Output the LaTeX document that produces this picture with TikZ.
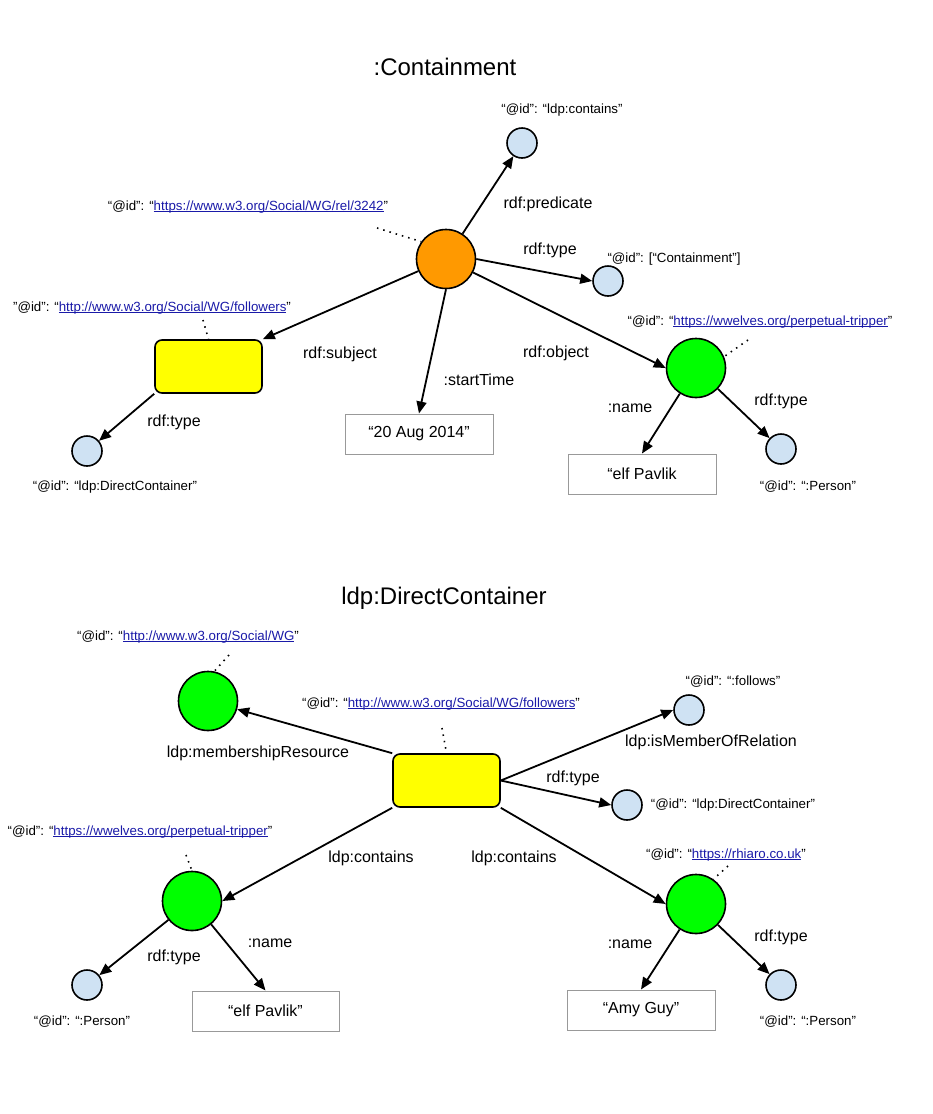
\documentclass[tikz,border=0pt]{standalone}
\usepackage{fontspec}
\setmainfont{Liberation Sans}
\usetikzlibrary{arrows.meta}
\definecolor{cOrange}{HTML}{FF9900}
\definecolor{cYellow}{HTML}{FFFF00}
\definecolor{cGreen}{HTML}{00FF00}
\definecolor{cBlue}{HTML}{CFE2F3}
\definecolor{cLink}{HTML}{1A1AA8}
\definecolor{cGray}{HTML}{999999}
\newcommand{\lnk}[1]{\textcolor{cLink}{\setbox0\hbox{#1}\rlap{\rule[-1.8pt]{\wd0}{0.8pt}}\box0}}
\tikzset{
  big/.style={circle, draw=black, line width=1.6pt, minimum size=59pt, inner sep=0pt},
  small/.style={circle, draw=black, fill=cBlue, line width=1.6pt, minimum size=30pt, inner sep=0pt},
  ybox/.style={draw=black, fill=cYellow, line width=1.6pt, rounded corners=7pt, minimum width=107pt, minimum height=53pt, inner sep=0pt},
  tbox/.style={draw=cGray, line width=1pt, minimum width=148pt, minimum height=40pt, inner sep=0pt, font=\fontsize{16}{19}\selectfont},
  lbl/.style={inner sep=0pt, font=\fontsize{16}{19}\selectfont},
  idl/.style={inner sep=0pt, font=\fontsize{13.3}{16}\selectfont},
  ttl/.style={inner sep=0pt, font=\fontsize{24}{28}\selectfont},
  arr/.style={-{Triangle[length=12pt,width=10pt]}, line width=1.8pt},
  dots/.style={line width=1.6pt, dash pattern=on 1.5pt off 5pt}
}
\begin{document}
\begin{tikzpicture}[x=1pt,y=-1pt]
\useasboundingbox (0,0) rectangle (932,1114);
% ---------------- top ----------------
\node[ttl] (t1) at (445,67) {:Containment};
\node[big, fill=cOrange] (O) at (446,259) {};
\node[small] (c1) at (522,143) {};
\node[idl] (l1) at (562,110) {“@id”: “ldp:contains”};
\node[small] (c2) at (608,281) {};
\node[idl] (l2) at (674,259) {“@id”: [“Containment”]};
\node[idl] (lrel) at (248,207) {“@id”: “\lnk{https://www.w3.org/Social/WG/rel/3242}"};
\coordinate (d1) at (377,228);
\draw[dots] (d1) -- (O.145);
\node[ybox] (B1) at (208.5,366.5) {};
\node[idl] (lf1) at (152,308) {"@id": “\lnk{http://www.w3.org/Social/WG/followers}"};
\coordinate (d2) at (203,320);
\draw[dots] (d2) -- (B1.north);
\node[small] (dc1) at (87,451) {};
\node[idl] (ldc1) at (115,487) {“@id”: “ldp:DirectContainer”};
\node[tbox] (date) at (419,434) {“20 Aug 2014”};
\node[big, fill=cGreen] (G1) at (696,368) {};
\node[idl] (lg1) at (760,322) {“@id”: “\lnk{https://wwelves.org/perpetual-tripper}”};
\coordinate (d3) at (748,340);
\draw[dots] (d3) -- (G1.22);
\node[tbox] (elf1) at (642,474) {“elf Pavlik};
\node[small] (p1) at (781,449) {};
\node[idl] (lp1) at (808,487) {“@id”: “:Person”};

\draw[arr] (O) -- (c1);
\draw[arr] (O.east) -- (c2.west);
\draw[arr] (O) -- (B1.north east);
\draw[arr] (O.south) -- (date.north);
\draw[arr] (O) -- (G1.west);
\draw[arr] (B1.south west) -- (dc1);
\draw[arr] (G1) -- (elf1.north);
\draw[arr] (G1) -- (p1);

\node[lbl] (e1) at (548,204) {rdf:predicate};
\node[lbl] (e2) at (550,250) {rdf:type};
\node[lbl] (e3) at (340,354) {rdf:subject};
\node[lbl] (e4) at (479,380) {:startTime};
\node[lbl] (e5) at (556,353) {rdf:object};
\node[lbl] (e6) at (174,422) {rdf:type};
\node[lbl] (e7) at (630,408) {:name};
\node[lbl] (e8) at (781,401) {rdf:type};

% ---------------- bottom ----------------
\node[ttl] (t2) at (444,598) {ldp:DirectContainer};
\node[big, fill=cGreen] (WG) at (208,701) {};
\node[idl] (lwg) at (188,637) {“@id”: “\lnk{http://www.w3.org/Social/WG}"};
\coordinate (d4) at (229,655);
\draw[dots] (d4) -- (WG.78);
\node[ybox] (B2) at (446.5,780.5) {};
\node[idl] (lf2) at (441,704) {“@id”: “\lnk{http://www.w3.org/Social/WG/followers}”};
\coordinate (d5) at (442,728);
\draw[dots] (d5) -- (B2.north);
\node[small] (F) at (689,710) {};
\node[idl] (lF) at (733,682) {“@id”: “:follows”};
\node[small] (dc2) at (627,805) {};
\node[idl] (ldc2) at (733,805) {“@id”: “ldp:DirectContainer”};
\node[big, fill=cGreen] (GP) at (192,901) {};
\node[idl] (lgp) at (140,832) {“@id”: “\lnk{https://wwelves.org/perpetual-tripper}"};
\coordinate (d6) at (186,855);
\draw[dots] (d6) -- (GP.north);
\node[small] (p2) at (87,985) {};
\node[idl] (lp2) at (82,1022) {“@id”: “:Person”};
\node[tbox, minimum width=147pt] (elf2) at (265.5,1011) {“elf Pavlik”};
\node[big, fill=cGreen] (GR) at (696,904) {};
\node[idl] (lgr) at (726,855) {“@id”: “\lnk{https://rhiaro.co.uk}”};
\coordinate (d7) at (728,866);
\draw[dots] (d7) -- (GR.55);
\node[tbox] (amy) at (641,1010) {“Amy Guy”};
\node[small] (p3) at (781,985) {};
\node[idl] (lp3) at (808,1022) {“@id”: “:Person”};

\draw[arr] (B2.north west) -- (WG);
\draw[arr] (B2.east) -- (F.west);
\draw[arr] (B2.east) -- (dc2.west);
\draw[arr] (B2.south west) -- (GP.east);
\draw[arr] (B2.south east) -- (GR.west);
\draw[arr] (GP) -- (p2);
\draw[arr] (GP) -- (elf2.north);
\draw[arr] (GR) -- (amy.north);
\draw[arr] (GR) -- (p3);

\node[lbl] (f1) at (258,753) {ldp:membershipResource};
\node[lbl] (f2) at (711,742) {ldp:isMemberOfRelation};
\node[lbl] (f3) at (573,778) {rdf:type};
\node[lbl] (f4) at (371,858) {ldp:contains};
\node[lbl] (f5) at (514,858) {ldp:contains};
\node[lbl] (f6) at (174,957) {rdf:type};
\node[lbl] (f7) at (270,943) {:name};
\node[lbl] (f8) at (630,944) {:name};
\node[lbl] (f9) at (781,937) {rdf:type};
\end{tikzpicture}
\end{document}
